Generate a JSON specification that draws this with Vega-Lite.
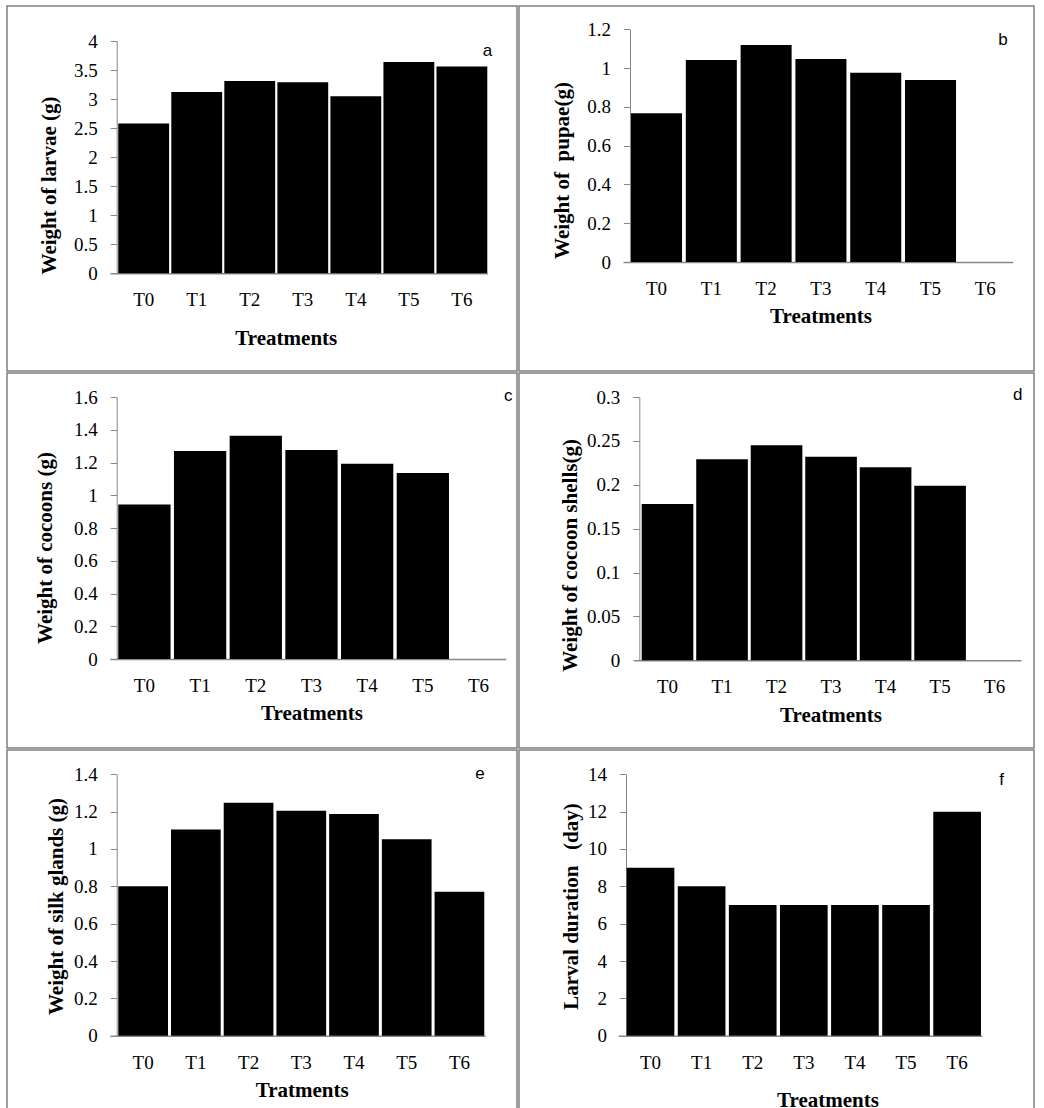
{
  "$schema": "https://vega.github.io/schema/vega-lite/v6.json",
  "background": "white",
  "padding": {"left": 6, "top": 5, "right": 0, "bottom": 0},
  "columns": 2,
  "spacing": 0,
  "datasets": {
    "larvae": [
      {"treatment": "T0", "value": 2.58}, {"treatment": "T1", "value": 3.12}, {"treatment": "T2", "value": 3.31},
      {"treatment": "T3", "value": 3.29}, {"treatment": "T4", "value": 3.05}, {"treatment": "T5", "value": 3.64},
      {"treatment": "T6", "value": 3.56}
    ],
    "pupae": [
      {"treatment": "T0", "value": 0.767}, {"treatment": "T1", "value": 1.042}, {"treatment": "T2", "value": 1.119},
      {"treatment": "T3", "value": 1.047}, {"treatment": "T4", "value": 0.976}, {"treatment": "T5", "value": 0.939}
    ],
    "cocoons": [
      {"treatment": "T0", "value": 0.943}, {"treatment": "T1", "value": 1.27}, {"treatment": "T2", "value": 1.364},
      {"treatment": "T3", "value": 1.276}, {"treatment": "T4", "value": 1.193}, {"treatment": "T5", "value": 1.136}
    ],
    "shells": [
      {"treatment": "T0", "value": 0.178}, {"treatment": "T1", "value": 0.229}, {"treatment": "T2", "value": 0.245},
      {"treatment": "T3", "value": 0.232}, {"treatment": "T4", "value": 0.22}, {"treatment": "T5", "value": 0.199}
    ],
    "glands": [
      {"treatment": "T0", "value": 0.8}, {"treatment": "T1", "value": 1.105}, {"treatment": "T2", "value": 1.248},
      {"treatment": "T3", "value": 1.205}, {"treatment": "T4", "value": 1.188}, {"treatment": "T5", "value": 1.052},
      {"treatment": "T6", "value": 0.771}
    ],
    "duration": [
      {"treatment": "T0", "value": 9}, {"treatment": "T1", "value": 8}, {"treatment": "T2", "value": 7},
      {"treatment": "T3", "value": 7}, {"treatment": "T4", "value": 7}, {"treatment": "T5", "value": 7},
      {"treatment": "T6", "value": 12}
    ]
  },
  "concat": [
    {
      "width": 510, "height": 365,
      "data": {"name": "larvae"},
      "title": {"text": "a", "orient": "top", "anchor": "start", "frame": "group", "offset": -61.5, "dx": 480.5, "align": "center", "baseline": "middle"},
      "mark": {"type": "bar", "color": "black"},
      "encoding": {
        "x": {"field": "treatment", "type": "nominal", "sort": null,
          "scale": {"domain": ["T0","T1","T2","T3","T4","T5","T6"], "range": [103, 480.3], "paddingInner": 0.0415, "paddingOuter": 0.078, "align": 1},
          "axis": {"title": "Treatments", "offset": -97.7, "titleX": 278.8, "titleY": 65.4}},
        "y": {"field": "value", "type": "quantitative",
          "scale": {"domain": [0, 4], "range": [267.3, 35], "nice": false},
          "axis": {"title": "Weight of larvae (g)", "values": [0,0.5,1,1.5,2,2.5,3,3.5,4], "offset": -109.7, "titleX": -67.2, "titleY": 179}}
      }
    },
    {
      "width": 515, "height": 365,
      "data": {"name": "pupae"},
      "title": {"text": "b", "orient": "top", "anchor": "start", "frame": "group", "offset": -51, "dx": 484, "align": "center", "baseline": "middle"},
      "mark": {"type": "bar", "color": "black"},
      "encoding": {
        "x": {"field": "treatment", "type": "nominal", "sort": null,
          "scale": {"domain": ["T0","T1","T2","T3","T4","T5","T6"], "range": [104, 493.7], "paddingInner": 0.069, "paddingOuter": 0.0903, "align": 0.81},
          "axis": {"title": "Treatments", "offset": -109, "titleX": 301.5, "titleY": 54.7}},
        "y": {"field": "value", "type": "quantitative",
          "scale": {"domain": [0, 1.2], "range": [256, 23.3], "nice": false},
          "axis": {"title": "Weight of \u00a0pupae(g)", "values": [0,0.2,0.4,0.6,0.8,1,1.2], "offset": -111, "titleX": -68, "titleY": 164}}
      }
    },
    {
      "width": 510, "height": 375,
      "data": {"name": "cocoons"},
      "title": {"text": "c", "orient": "top", "anchor": "start", "frame": "group", "offset": -40, "dx": 501.3, "align": "center", "baseline": "middle"},
      "mark": {"type": "bar", "color": "black"},
      "encoding": {
        "x": {"field": "treatment", "type": "nominal", "sort": null,
          "scale": {"domain": ["T0","T1","T2","T3","T4","T5","T6"], "range": [103, 498.7], "paddingInner": 0.061, "paddingOuter": 0.0835, "align": 0.89},
          "axis": {"title": "Treatments", "offset": -89, "titleX": 304.5, "titleY": 54.3}},
        "y": {"field": "value", "type": "quantitative",
          "scale": {"domain": [0, 1.6], "range": [286, 24], "nice": false},
          "axis": {"title": "Weight of cocoons (g)", "values": [0,0.2,0.4,0.6,0.8,1,1.2,1.4,1.6], "offset": -109.7, "titleX": -71, "titleY": 174.5}}
      }
    },
    {
      "width": 515, "height": 375,
      "data": {"name": "shells"},
      "title": {"text": "d", "orient": "top", "anchor": "start", "frame": "group", "offset": -39, "dx": 498.7, "align": "center", "baseline": "middle"},
      "mark": {"type": "bar", "color": "black"},
      "encoding": {
        "x": {"field": "treatment", "type": "nominal", "sort": null,
          "scale": {"domain": ["T0","T1","T2","T3","T4","T5","T6"], "range": [115, 502], "paddingInner": 0.053, "paddingOuter": 0.076, "align": 0.93},
          "axis": {"title": "Treatments", "offset": -87.7, "titleX": 311.5, "titleY": 54.7}},
        "y": {"field": "value", "type": "quantitative",
          "scale": {"domain": [0, 0.3], "range": [287.3, 24], "nice": false},
          "axis": {"title": "Weight of cocoon shells(g)", "values": [0,0.05,0.1,0.15,0.2,0.25,0.3], "offset": -120.3, "titleX": -69.3, "titleY": 182}}
      }
    },
    {
      "width": 510, "height": 360,
      "data": {"name": "glands"},
      "title": {"text": "e", "orient": "top", "anchor": "start", "frame": "group", "offset": -41, "dx": 473, "align": "center", "baseline": "middle"},
      "mark": {"type": "bar", "color": "black"},
      "encoding": {
        "x": {"field": "treatment", "type": "nominal", "sort": null,
          "scale": {"domain": ["T0","T1","T2","T3","T4","T5","T6"], "range": [103, 478], "paddingInner": 0.057, "paddingOuter": 0.0854, "align": 0.92},
          "axis": {"title": "Tratments", "offset": -74.3, "titleX": 294.7, "titleY": 54.3}},
        "y": {"field": "value", "type": "quantitative",
          "scale": {"domain": [0, 1.4], "range": [285.7, 24.3], "nice": false},
          "axis": {"title": "Weight of silk glands (g)", "values": [0,0.2,0.4,0.6,0.8,1,1.2,1.4], "offset": -109.7, "titleX": -59.7, "titleY": 156}}
      }
    },
    {
      "width": 515, "height": 360,
      "data": {"name": "duration"},
      "title": {"text": "f", "orient": "top", "anchor": "start", "frame": "group", "offset": -46.5, "dx": 482.7, "align": "center", "baseline": "middle"},
      "mark": {"type": "bar", "color": "black"},
      "encoding": {
        "x": {"field": "treatment", "type": "nominal", "sort": null,
          "scale": {"domain": ["T0","T1","T2","T3","T4","T5","T6"], "range": [99.3, 462.7], "paddingInner": 0.067, "paddingOuter": 0.089, "align": 0.92},
          "axis": {"title": "Treatments", "offset": -74.3, "titleX": 308.5, "titleY": 64.3}},
        "y": {"field": "value", "type": "quantitative",
          "scale": {"domain": [0, 14], "range": [285.7, 24.3], "nice": false},
          "axis": {"title": "Larval duration \u00a0 (day)", "values": [0,2,4,6,8,10,12,14], "offset": -107, "titleX": -55, "titleY": 156}}
      }
    }
  ],
  "config": {
    "view": {"stroke": "#7f7f7f", "strokeWidth": 1.5, "fill": "white"},
    "title": {"font": "Liberation Sans", "fontSize": 17, "fontWeight": "normal", "color": "black"},
    "axis": {
      "grid": false,
      "domainColor": "#888888",
      "tickColor": "#888888",
      "labelFont": "Liberation Serif",
      "labelFontSize": 19,
      "labelColor": "black",
      "titleFont": "Liberation Serif",
      "titleFontSize": 21,
      "titleFontWeight": "bold",
      "titleColor": "black",
      "titleAlign": "center",
      "titleBaseline": "middle"
    },
    "axisX": {"ticks": false, "labelPadding": 17.5, "labelAngle": 0, "domainWidth": 1.5},
    "axisY": {"tickSize": 6.5, "labelPadding": 13, "domainWidth": 1, "tickWidth": 1, "titleAngle": -90, "format": "~g"}
  }
}
